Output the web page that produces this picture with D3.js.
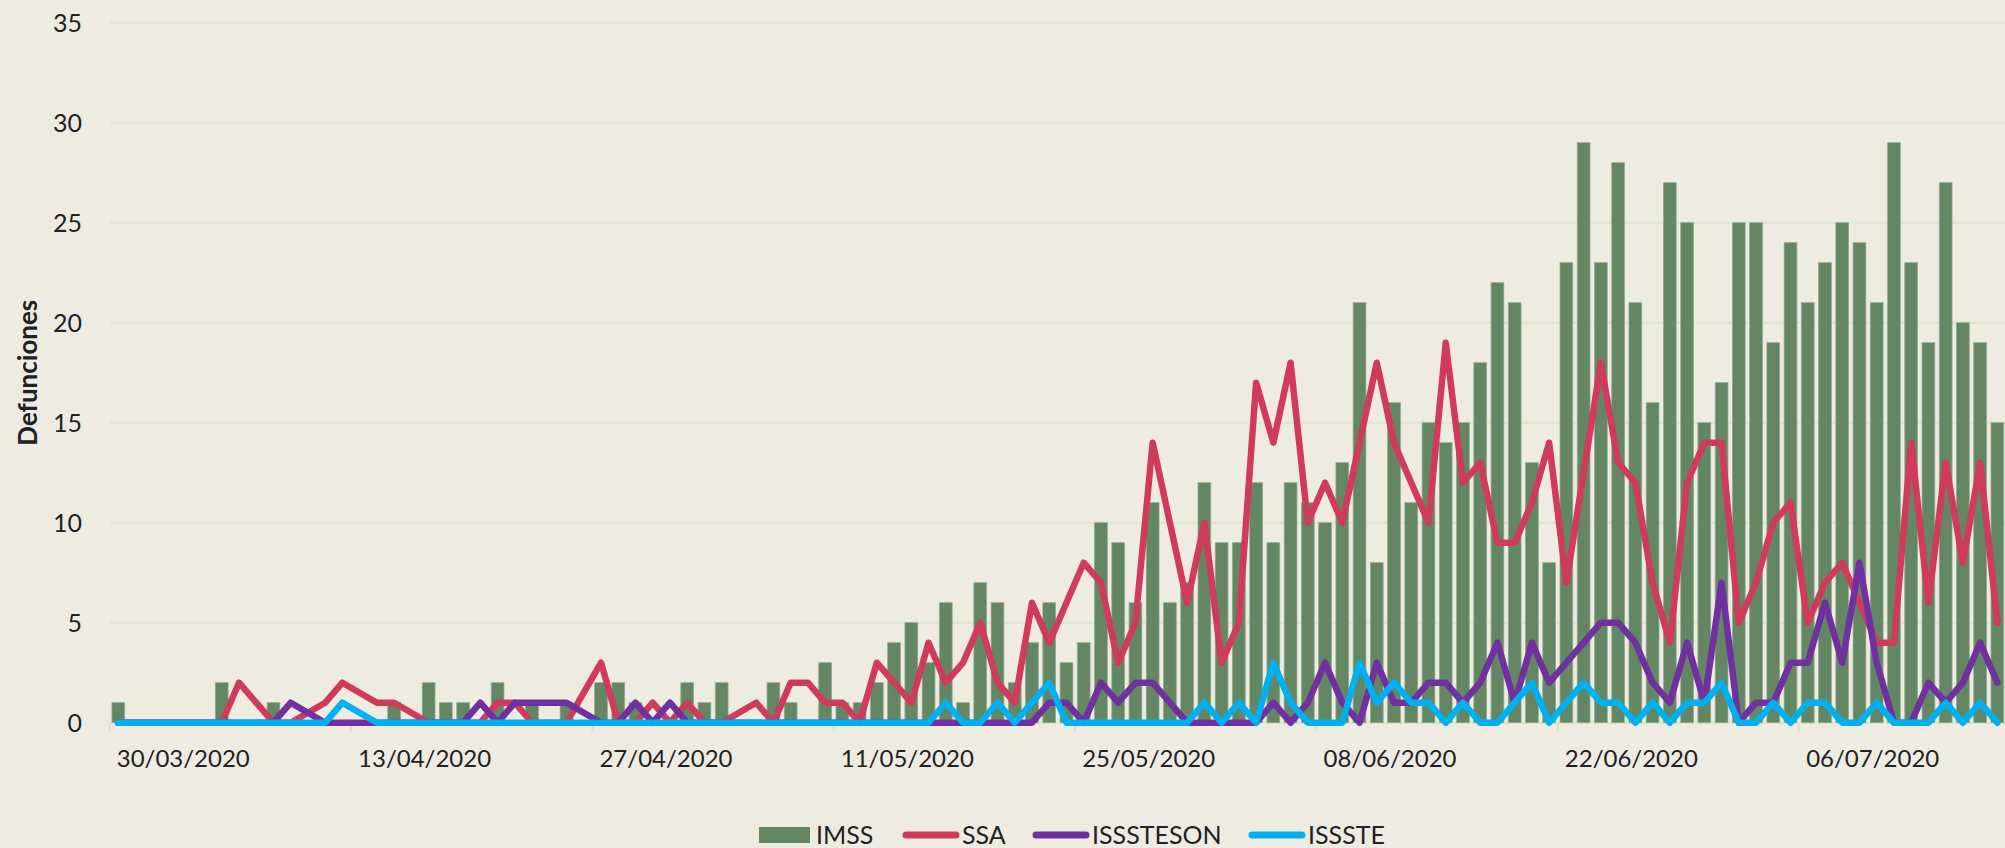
<!DOCTYPE html>
<html>
<head>
<meta charset="utf-8">
<script src="https://cdn.jsdelivr.net/npm/d3@7"></script>
<style>
  html, body { margin: 0; padding: 0; background: #eeece1; }
  svg { display: block; }
  text { font-family: Lato, "Open Sans", sans-serif; fill: #222; }
</style>
</head>
<body>
<div id="chart"></div>
<script>
/*
 *  Defunciones diarias por institución (barras IMSS, líneas SSA / ISSSTESON / ISSSTE)
 */

// one value per day, 26/03/2020 .. 13/07/2020 (null = day without record)
var imss = [1, 0, 0, 0, 0, 0, 2, 0, 0, 1,
    0, 0, 0, 0, 0, 0, 1, 0, 2, 1,
    1, 0, 2, 0, 1, 0, 1, 0, 2, 2,
    1, 0, 0, 2, 1, 2, 0, 0, 2, 1,
    0, 3, 1, 1, 2, 4, 5, 3, 6, 1,
    7, 6, 2, 4, 6, 3, 4, 10, 9, 6,
    11, 6, 7, 12, 9, 9, 12, 9, 12, 11,
    10, 13, 21, 8, 16, 11, 15, 14, 15, 18,
    22, 21, 13, 8, 23, 29, 23, 28, 21, 16,
    27, 25, 15, 17, 25, 25, 19, 24, 21, 23,
    25, 24, 21, 29, 23, 19, 27, 20, 19, 15];

var ssa = [0, 0, 0, 0, 0, 0, 0, 2, 1, 0,
    0, null, 1, 2, null, 1, 1, null, 0, 0,
    0, 0, 1, 1, 0, 0, 0, null, 3, 0,
    0, 1, 0, 1, 0, 0, null, 1, 0, 2,
    2, 1, 1, 0, 3, 2, 1, 4, 2, 3,
    5, 2, 1, 6, 4, 6, 8, 7, 3, 5,
    14, 10, 6, 10, 3, 5, 17, 14, 18, 10,
    12, 10, 14, 18, 14, 12, 10, 19, 12, 13,
    9, 9, 11, 14, 7, null, 18, 13, 12, 7,
    4, 12, 14, 14, 5, 7, 10, 11, 5, 7,
    8, 6, 4, 4, 14, 6, 13, 8, 13, 5];

var isssteson = [0, 0, 0, 0, 0, 0, 0, 0, 0, 0,
    1, null, 0, 0, null, 0, 0, null, 0, 0,
    0, 1, 0, 1, 1, 1, 1, null, 0, 0,
    1, 0, 1, 0, 0, 0, null, 0, 0, 0,
    0, 0, 0, 0, 0, 0, 0, 0, 0, 0,
    0, 0, 0, 0, 1, 1, 0, 2, 1, 2,
    2, 1, 0, 0, 0, 0, 0, 1, 0, 1,
    3, 1, 0, 3, 1, 1, 2, 2, 1, 2,
    4, 1, 4, 2, 3, 4, 5, 5, 4, 2,
    1, 4, 1, 7, 0, 1, 1, 3, 3, 6,
    3, 8, 3, 0, 0, 2, 1, 2, 4, 2];

var issste = [0, 0, 0, 0, 0, 0, 0, 0, 0, 0,
    0, null, 0, 1, null, 0, 0, null, 0, 0,
    0, 0, 0, 0, 0, 0, 0, null, 0, 0,
    0, 0, 0, 0, 0, 0, null, 0, 0, 0,
    0, 0, 0, 0, 0, 0, 0, 0, 1, 0,
    0, 1, 0, 1, 2, 0, 0, 0, 0, 0,
    0, 0, 0, 1, 0, 1, 0, 3, 1, 0,
    0, 0, 3, 1, 2, 1, 1, 0, 1, 0,
    0, 1, 2, 0, 1, 2, 1, 1, 0, 1,
    0, 1, 1, 2, 0, 0, 1, 0, 1, 1,
    0, 0, 1, 0, 0, 0, 1, 0, 1, 0];

var tickLabels = ["30/03/2020", "13/04/2020", "27/04/2020", "11/05/2020",
    "25/05/2020", "08/06/2020", "22/06/2020", "06/07/2020"];

var yTicks = [0, 5, 10, 15, 20, 25, 30, 35];

var seriesNames = ["IMSS", "SSA", "ISSSTESON", "ISSSTE"];
var seriesColors = ["#628762", "#d13b5b", "#7030a0", "#00b0f0"];

render();

function render() {

    var width = 2005, height = 848;
    var margin = {top: 22.7, right: -1, bottom: 125.3, left: 109.7};

    var fmt = d3.timeFormat("%d/%m/%Y");
    var days = d3.timeDay.range(new Date(2020, 2, 26), new Date(2020, 6, 14)).map(fmt);

    var svg = d3.select("#chart").append("svg")
        .attr("width", width)
        .attr("height", height);

    var x = d3.scaleBand()
        .domain(days)
        .range([margin.left, width - margin.right])
        .paddingInner(0.26)
        .paddingOuter(0.13);

    var y = d3.scaleLinear()
        .domain([0, 35])
        .range([height - margin.bottom, margin.top]);

    var cx = function (i) {
        return x(days[i]) + x.bandwidth() / 2;
    };

    /* grid lines */
    svg.append("g")
        .selectAll("line")
        .data(yTicks)
        .enter().append("line")
        .attr("x1", margin.left)
        .attr("x2", width)
        .attr("y1", function (d) { return y(d); })
        .attr("y2", function (d) { return y(d); })
        .style("stroke", "#dfe4cd")
        .style("stroke-width", 2);

    /* y axis labels */
    svg.append("g")
        .selectAll("text")
        .data(yTicks)
        .enter().append("text")
        .attr("x", 82)
        .attr("y", function (d) { return y(d); })
        .attr("dy", "0.36em")
        .attr("text-anchor", "end")
        .style("font-size", "25px")
        .text(function (d) { return d; });

    svg.append("text")
        .attr("transform", "translate(37," + ((y(0) + y(35)) / 2) + ") rotate(-90)")
        .attr("text-anchor", "middle")
        .style("font-size", "26px")
        .style("font-weight", "bold")
        .text("Defunciones");

    /* x axis: tick marks every 14 days, labels on 30/03 and every 14 days after */
    var tickIdx = d3.range(0, days.length, 14);
    svg.append("g")
        .selectAll("line")
        .data(tickIdx)
        .enter().append("line")
        .attr("x1", function (i) { return x(days[i]) - x.step() * 0.13; })
        .attr("x2", function (i) { return x(days[i]) - x.step() * 0.13; })
        .attr("y1", y(0))
        .attr("y2", y(0) + 9)
        .style("stroke", "#dbe1c8")
        .style("stroke-width", 2);

    svg.append("g")
        .selectAll("text")
        .data(tickLabels)
        .enter().append("text")
        .attr("x", function (d) { return x(d) + x.bandwidth() / 2 - 4; })
        .attr("y", 767)
        .attr("text-anchor", "middle")
        .style("font-size", "24px")
        .text(function (d) { return d; });

    /* bars */
    svg.append("g")
        .selectAll("rect")
        .data(imss)
        .enter().append("rect")
        .attr("x", function (d, i) { return x(days[i]); })
        .attr("width", x.bandwidth())
        .attr("y", function (d) { return y(d || 0); })
        .attr("height", function (d) { return y(0) - y(d || 0); })
        .style("fill", seriesColors[0])
        .style("stroke", "#93aa90")
        .style("stroke-width", 0.8);

    /* lines: empty days are skipped, so the neighbours get joined */
    var line = d3.line()
        .x(function (d) { return cx(d.i); })
        .y(function (d) { return y(d.v); });

    [ssa, isssteson, issste].forEach(function (s, k) {
        var pts = s.map(function (v, i) { return {i: i, v: v}; })
            .filter(function (d) { return d.v !== null; });
        svg.append("path")
            .datum(pts)
            .attr("d", line)
            .style("fill", "none")
            .style("stroke", seriesColors[k + 1])
            .style("stroke-width", 6.5)
            .style("stroke-linejoin", "round")
            .style("stroke-linecap", "round");
    });

    /* legend */
    var legX = [759, 903, 1033, 1249];
    var legend = svg.append("g")
        .selectAll("g")
        .data(seriesNames)
        .enter().append("g")
        .attr("transform", function (d, i) { return "translate(" + legX[i] + ",835)"; });

    legend.filter(function (d, i) { return i === 0; })
        .append("rect")
        .attr("x", 0)
        .attr("y", -8)
        .attr("width", 51)
        .attr("height", 16)
        .style("fill", seriesColors[0]);

    legend.filter(function (d, i) { return i > 0; })
        .append("line")
        .attr("x1", 3)
        .attr("x2", 53)
        .style("stroke", function (d) { return seriesColors[seriesNames.indexOf(d)]; })
        .style("stroke-width", 7)
        .style("stroke-linecap", "round");

    legend.append("text")
        .attr("x", function (d, i) { return i === 0 ? 57 : 59; })
        .attr("y", 0)
        .attr("dy", "0.36em")
        .style("font-size", "25px")
        .text(function (d) { return d; });
}
</script>
</body>
</html>
